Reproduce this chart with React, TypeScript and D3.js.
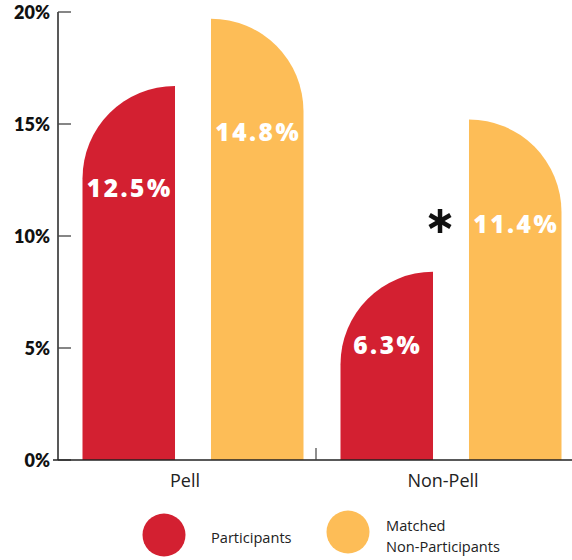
import React from "react";
import * as d3 from "d3";

const categories = ["Pell", "Non-Pell"];
const series = ["Participants", "Matched Non-Participants"];
// bar heights as drawn, in %
const participantsBar = [16.7, 8.4];
const matchedBar = [19.7, 15.2];
// printed value labels
const participantsLabel = ["12.5%", "6.3%"];
const matchedLabel = ["14.8%", "11.4%"];
const yTicks = [0, 5, 10, 15, 20];

const W = 572;
const H = 560;
const RED = "#D32031";
const ORANGE = "#FDBD57";
const LABEL_DY = [
  [102, 73],
  [113, 104],
];

export default function App() {
  const y = d3.scaleLinear().domain([0, 20]).range([460, 12]);
  const x = d3.scaleBand<string>().domain(categories).range([58, 574]).padding(0);
  const inner = d3
    .scaleBand<string>()
    .domain(series)
    .range([24.5, 245.5])
    .paddingInner(0.28)
    .paddingOuter(0);
  const bw = inner.bandwidth();
  const r = bw;

  const leftRounded = (x0: number, top: number) => {
    const p = d3.path();
    p.moveTo(x0, y(0));
    p.lineTo(x0, top + r);
    p.arcTo(x0, top, x0 + r, top, r);
    p.lineTo(x0 + bw, top);
    p.lineTo(x0 + bw, y(0));
    p.closePath();
    return p.toString();
  };
  const rightRounded = (x0: number, top: number) => {
    const p = d3.path();
    p.moveTo(x0, y(0));
    p.lineTo(x0, top);
    p.lineTo(x0 + bw - r, top);
    p.arcTo(x0 + bw, top, x0 + bw, top + r, r);
    p.lineTo(x0 + bw, y(0));
    p.closePath();
    return p.toString();
  };

  const labelStyle: React.CSSProperties = {
    fontFamily: "'Open Sans', sans-serif",
    fontWeight: 800,
    fontSize: 24.5,
    letterSpacing: 2.5,
    fill: "#fff",
  };

  // asterisk
  const ax = (x("Non-Pell") as number) + (inner(series[0]) as number) + bw + 7;
  const ay = 221;
  const ar = 12;
  const astLines = [90, 30, 150].map((a) => {
    const rad = (a * Math.PI) / 180;
    return {
      x1: ax - ar * Math.cos(rad),
      y1: ay - ar * Math.sin(rad),
      x2: ax + ar * Math.cos(rad),
      y2: ay + ar * Math.sin(rad),
    };
  });

  return (
    <svg
      width={W}
      height={H}
      style={{ position: "absolute", left: 0, top: 0, background: "#fff" }}
    >
      {/* bars */}
      {categories.map((c, i) => {
        const gx = x(c) as number;
        const px = gx + (inner(series[0]) as number);
        const mx = gx + (inner(series[1]) as number);
        const pt = y(participantsBar[i]);
        const mt = y(matchedBar[i]);
        return (
          <g key={c}>
            <path d={leftRounded(px, pt)} fill={RED} />
            <path d={rightRounded(mx, mt)} fill={ORANGE} />
            <text
              x={px + bw / 2 + 1}
              y={pt + LABEL_DY[0][i]}
              textAnchor="middle"
              dominantBaseline="central"
              style={labelStyle}
            >
              {participantsLabel[i]}
            </text>
            <text
              x={mx + bw / 2 + 1}
              y={mt + LABEL_DY[1][i]}
              textAnchor="middle"
              dominantBaseline="central"
              style={labelStyle}
            >
              {matchedLabel[i]}
            </text>
          </g>
        );
      })}

      {/* y axis */}
      <line x1={58} x2={58} y1={y(20)} y2={y(0)} stroke="#222" strokeWidth={1.5} />
      {yTicks.map((t) => (
        <g key={t}>
          <line x1={58} x2={71} y1={y(t)} y2={y(t)} stroke="#444" strokeWidth={1.3} />
          <text
            x={50}
            y={y(t)}
            textAnchor="end"
            dominantBaseline="central"
            style={{
              fontFamily: "Lato, sans-serif",
              fontWeight: 800,
              fontSize: 18,
              fill: "#111",
            }}
          >
            {t}%
          </text>
        </g>
      ))}

      {/* x axis */}
      <line x1={53} x2={W} y1={y(0)} y2={y(0)} stroke="#222" strokeWidth={1.5} />
      <line
        x1={x("Non-Pell") as number}
        x2={x("Non-Pell") as number}
        y1={y(0) - 12}
        y2={y(0)}
        stroke="#444"
        strokeWidth={1.2}
      />
      {categories.map((c) => (
        <text
          key={c}
          x={(x(c) as number) + x.bandwidth() / 2 - 2}
          y={487}
          textAnchor="middle"
          style={{ fontFamily: "'Open Sans', sans-serif", fontSize: 18, fill: "#222" }}
        >
          {c}
        </text>
      ))}

      {/* asterisk */}
      {astLines.map((l, i) => (
        <line key={i} {...l} stroke="#111" strokeWidth={4.5} />
      ))}

      {/* legend */}
      <circle cx={164} cy={535} r={21.5} fill={RED} />
      <text
        x={211}
        y={543}
        style={{ fontFamily: "'Open Sans', sans-serif", fontSize: 14.6, fill: "#222" }}
      >
        Participants
      </text>
      <circle cx={348} cy={532} r={21.5} fill={ORANGE} />
      <text style={{ fontFamily: "'Open Sans', sans-serif", fontSize: 14.6, fill: "#222" }}>
        <tspan x={386} y={531}>
          Matched
        </tspan>
        <tspan x={386} y={552}>
          Non-Participants
        </tspan>
      </text>
    </svg>
  );
}
